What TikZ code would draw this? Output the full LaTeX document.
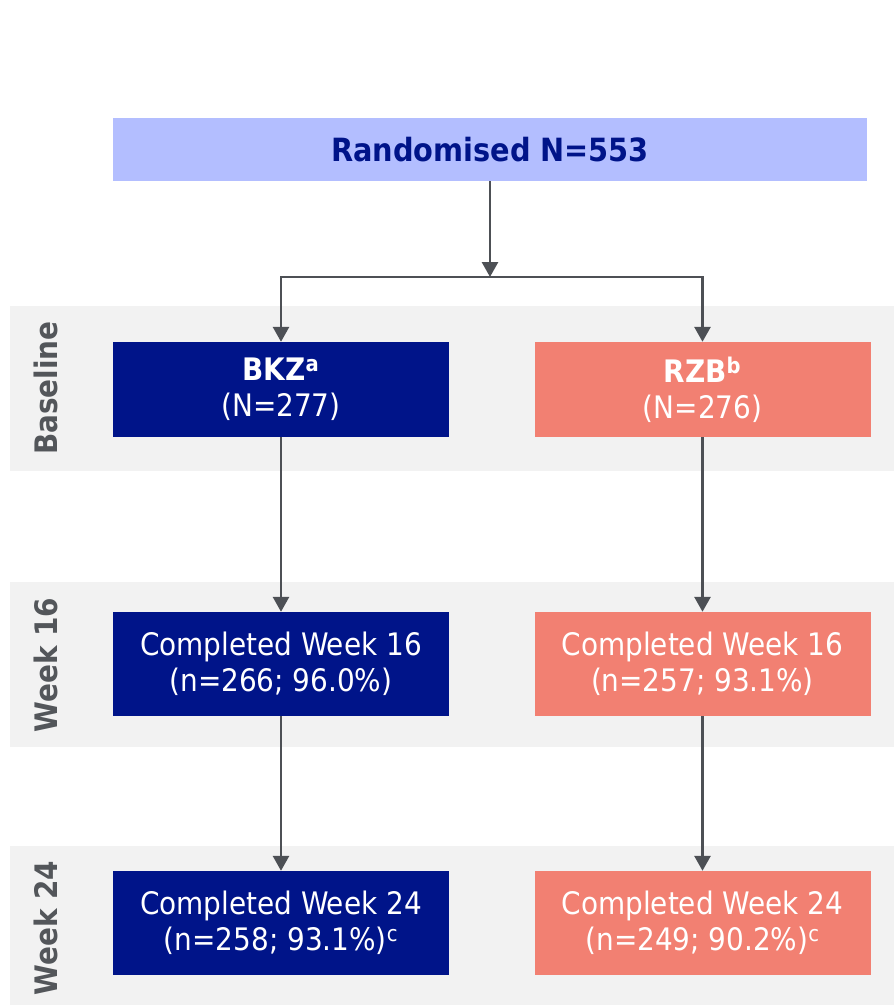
\documentclass[tikz,border=0pt]{standalone}
\usepackage{fontspec}
\setmainfont{DejaVu Sans Condensed}
\usetikzlibrary{arrows.meta}
\definecolor{navy}{HTML}{001489}
\definecolor{salmon}{HTML}{F28072}
\definecolor{lavender}{HTML}{B3BEFF}
\definecolor{band}{HTML}{F2F2F2}
\definecolor{linegray}{HTML}{4D5055}
\definecolor{labelgray}{HTML}{53565A}
\tikzset{
  box/.style={draw=none, minimum width=336pt, minimum height=104pt, align=center,
    inner sep=0pt, text=white, font=\fontsize{31}{36}\selectfont},
  armA/.style={box, fill=navy},
  armB/.style={box, fill=salmon},
  phase/.style={rotate=90, text=labelgray, font=\fontsize{31}{36}\selectfont\bfseries},
  flow/.style={draw=linegray, line width=2.8pt, -{Triangle[width=16pt,length=15pt]}},
}
\begin{document}
\begin{tikzpicture}[x=1pt, y=-1pt]
\useasboundingbox (0,0) rectangle (894,1005);
% phase bands
\fill[band] (10,306) rectangle (894,471);
\fill[band] (10,582) rectangle (894,747);
\fill[band] (10,846) rectangle (894,1005);
\node[phase] (pb) at (46,388) {Baseline};
\node[phase] (p16) at (46,665) {Week 16};
\node[phase] (p24) at (46,928) {Week 24};
% randomisation
\node[box, fill=lavender, minimum width=754pt, minimum height=63pt, text=navy,
  font=\fontsize{32}{36}\selectfont\bfseries] (rand) at (490,149.5) {Randomised N=553};
% arms
\node[armA, minimum height=95pt] (bkz) at (281,389.5) {\textbf{BKZ\textsuperscript{a}}\\(N=277)};
\node[armB, minimum height=95pt] (rzb) at (702.5,389.5) {\textbf{RZB\textsuperscript{b}}\\(N=276)};
\node[armA] (l16) at (281,664) {Completed Week 16\\(n=266; 96.0\%)};
\node[armB] (r16) at (702.5,664) {Completed Week 16\\(n=257; 93.1\%)};
\node[armA] (l24) at (281,923) {Completed Week 24\\(n=258; 93.1\%)\textsuperscript{c}};
\node[armB] (r24) at (702.5,923) {Completed Week 24\\(n=249; 90.2\%)\textsuperscript{c}};
% connectors
\coordinate (split) at (490,277);
\draw[flow] (rand.south) -- (split);
\draw[flow] (split) -| (bkz.north);
\draw[flow] (split) -| (rzb.north);
\draw[flow] (bkz.south) -- (l16.north);
\draw[flow] (l16.south) -- (l24.north);
\draw[flow] (rzb.south) -- (r16.north);
\draw[flow] (r16.south) -- (r24.north);
\end{tikzpicture}
\end{document}
